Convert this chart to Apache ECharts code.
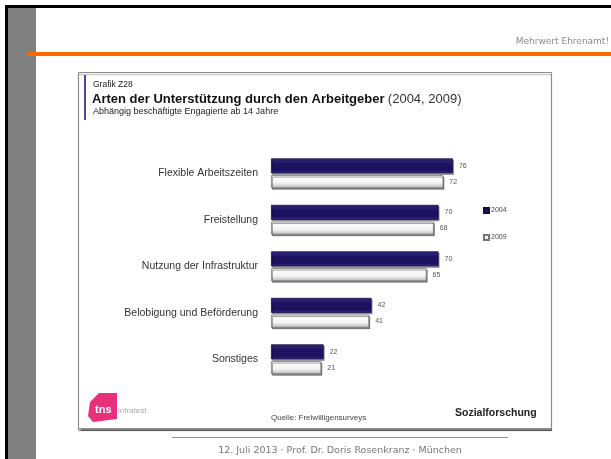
<!DOCTYPE html>
<html>
<head>
<meta charset="utf-8">
<script src="https://cdn.jsdelivr.net/npm/echarts@6/dist/echarts.min.js"></script>
<style>
  html, body { margin: 0; padding: 0; background: #fff; }
  #chart { width: 611px; height: 459px; }
</style>
</head>
<body>
<div id="chart"></div>
<script>
// Daten (Werte in %)
const categories = [
  'Flexible Arbeitszeiten',
  'Freistellung',
  'Nutzung der Infrastruktur',
  'Belobigung und Beförderung',
  'Sonstiges'
];
const values2004 = [76, 70, 70, 42, 22];
const values2009 = [72, 68, 65, 41, 21];
const seriesNames = ['2004', '2009'];

const chart = echarts.init(document.getElementById('chart'));

const navy = new echarts.graphic.LinearGradient(0, 0, 0, 1, [
  { offset: 0, color: '#3b3590' },
  { offset: 0.35, color: '#1c1363' },
  { offset: 0.8, color: '#1a1160' },
  { offset: 1, color: '#3a3488' }
]);
const white = new echarts.graphic.LinearGradient(0, 0, 0, 1, [
  { offset: 0, color: '#ffffff' },
  { offset: 0.6, color: '#f4f4f4' },
  { offset: 1, color: '#b8b8b8' }
]);

const option = {
  animation: false,
  backgroundColor: '#fff',
  graphic: [
    // grauer Streifen links + schwarzer Rahmen
    { type: 'rect', shape: { x: 8, y: 8, width: 28, height: 451 }, style: { fill: '#808080' } },
    { type: 'rect', shape: { x: 5, y: 5, width: 606, height: 3 }, style: { fill: '#000' } },
    { type: 'rect', shape: { x: 5, y: 5, width: 3, height: 454 }, style: { fill: '#000' } },
    // orange Linie oben
    { type: 'rect', shape: { x: 27, y: 52, width: 584, height: 4 }, style: { fill: '#ff6600' } },
    {
      type: 'text',
      style: { x: 609, y: 42, text: 'Mehrwert Ehrenamt!', fill: '#8a8a8a', font: '9px "DejaVu Sans"', align: 'right', verticalAlign: 'middle' }
    },
    // Kasten der Grafik
    {
      type: 'rect', shape: { x: 78.5, y: 72.5, width: 473, height: 356 },
      style: { fill: '#fff', stroke: '#8c8c8c', lineWidth: 1, shadowColor: 'rgba(0,0,0,0.45)', shadowOffsetY: 2, shadowBlur: 1 },
      z: -1
    },
    { type: 'rect', shape: { x: 79, y: 74, width: 472, height: 1 }, style: { fill: '#c8c8c8' } },
    { type: 'rect', shape: { x: 84, y: 75, width: 2, height: 45 }, style: { fill: '#4a4aa0' } },
    {
      type: 'text',
      style: { x: 93, y: 85, text: 'Grafik Z28', fill: '#222', font: '8.5px "Liberation Sans"', verticalAlign: 'middle' }
    },
    {
      type: 'text',
      style: {
        x: 92, y: 99, verticalAlign: 'middle',
        text: '{b|Arten der Unterstützung durch den Arbeitgeber} {n|(2004, 2009)}',
        rich: {
          b: { fill: '#111', font: 'bold 13px "Liberation Sans"' },
          n: { fill: '#333', font: '13px "Liberation Sans"' }
        }
      }
    },
    {
      type: 'text',
      style: { x: 93, y: 112, text: 'Abhängig beschäftigte Engagierte ab 14 Jahre', fill: '#222', font: '9px "Liberation Sans"', verticalAlign: 'middle' }
    },
    // Logo tns infratest
    {
      type: 'polygon',
      shape: { points: [[90, 402], [99, 393], [117, 393], [117, 419], [93, 422], [88, 416]] },
      style: { fill: '#e8317a' }
    },
    {
      type: 'text',
      style: { x: 95, y: 410, text: 'tns', fill: '#fff', font: 'bold 11px "Liberation Sans"', verticalAlign: 'middle' }
    },
    {
      type: 'text',
      style: { x: 118, y: 411, text: 'infratest', fill: '#aaa', font: '8px "Liberation Sans"', verticalAlign: 'middle' }
    },
    {
      type: 'text',
      style: { x: 271, y: 418, text: 'Quelle: Freiwilligensurveys', fill: '#444', font: '8px "Liberation Sans"', verticalAlign: 'middle' }
    },
    {
      type: 'text',
      style: { x: 455, y: 413, text: 'Sozialforschung', fill: '#222', font: 'bold 10.5px "Liberation Sans"', verticalAlign: 'middle' }
    },
    // Fußzeile
    { type: 'rect', shape: { x: 172, y: 437, width: 336, height: 1 }, style: { fill: '#e07a3a' } },
    {
      type: 'text',
      style: { x: 340, y: 451, text: '12. Juli 2013 · Prof. Dr. Doris Rosenkranz · München', fill: '#777', font: '9.5px "DejaVu Sans"', align: 'center', verticalAlign: 'middle' }
    }
  ],
  legend: {
    orient: 'vertical',
    left: 478,
    top: 202,
    itemWidth: 5,
    itemHeight: 5,
    itemGap: 20,
    icon: 'rect',
    data: seriesNames,
    textStyle: { fontSize: 7, color: '#444', fontFamily: 'Liberation Sans', padding: [0, 0, 0, -3] }
  },
  grid: { left: 271, top: 150, width: 239.4, height: 232.5, containLabel: false },
  xAxis: {
    type: 'value', min: 0, max: 100, show: false
  },
  yAxis: {
    type: 'category',
    inverse: true,
    data: categories,
    axisLine: { show: false },
    axisTick: { show: false },
    axisLabel: { margin: 13, fontSize: 10.5, color: '#333', fontFamily: 'Liberation Sans' }
  },
  series: [
    {
      name: seriesNames[0],
      type: 'bar',
      data: values2004,
      barWidth: 15,
      barGap: '12%',
      itemStyle: { color: navy, borderColor: '#120c45', borderWidth: 0.8, shadowColor: 'rgba(0,0,0,0.35)', shadowOffsetY: 1.5, shadowOffsetX: 1 },
      label: { show: true, position: 'right', distance: 6, fontSize: 7, color: '#555', fontFamily: 'Liberation Sans' }
    },
    {
      name: seriesNames[1],
      type: 'bar',
      data: values2009,
      barWidth: 13,
      itemStyle: { color: white, borderColor: '#777', borderWidth: 0.8, shadowColor: 'rgba(0,0,0,0.45)', shadowOffsetY: 1.5, shadowOffsetX: 1 },
      label: { show: true, position: 'right', distance: 6, fontSize: 7, color: '#555', fontFamily: 'Liberation Sans' }
    }
  ]
};

chart.setOption(option);
</script>
</body>
</html>
